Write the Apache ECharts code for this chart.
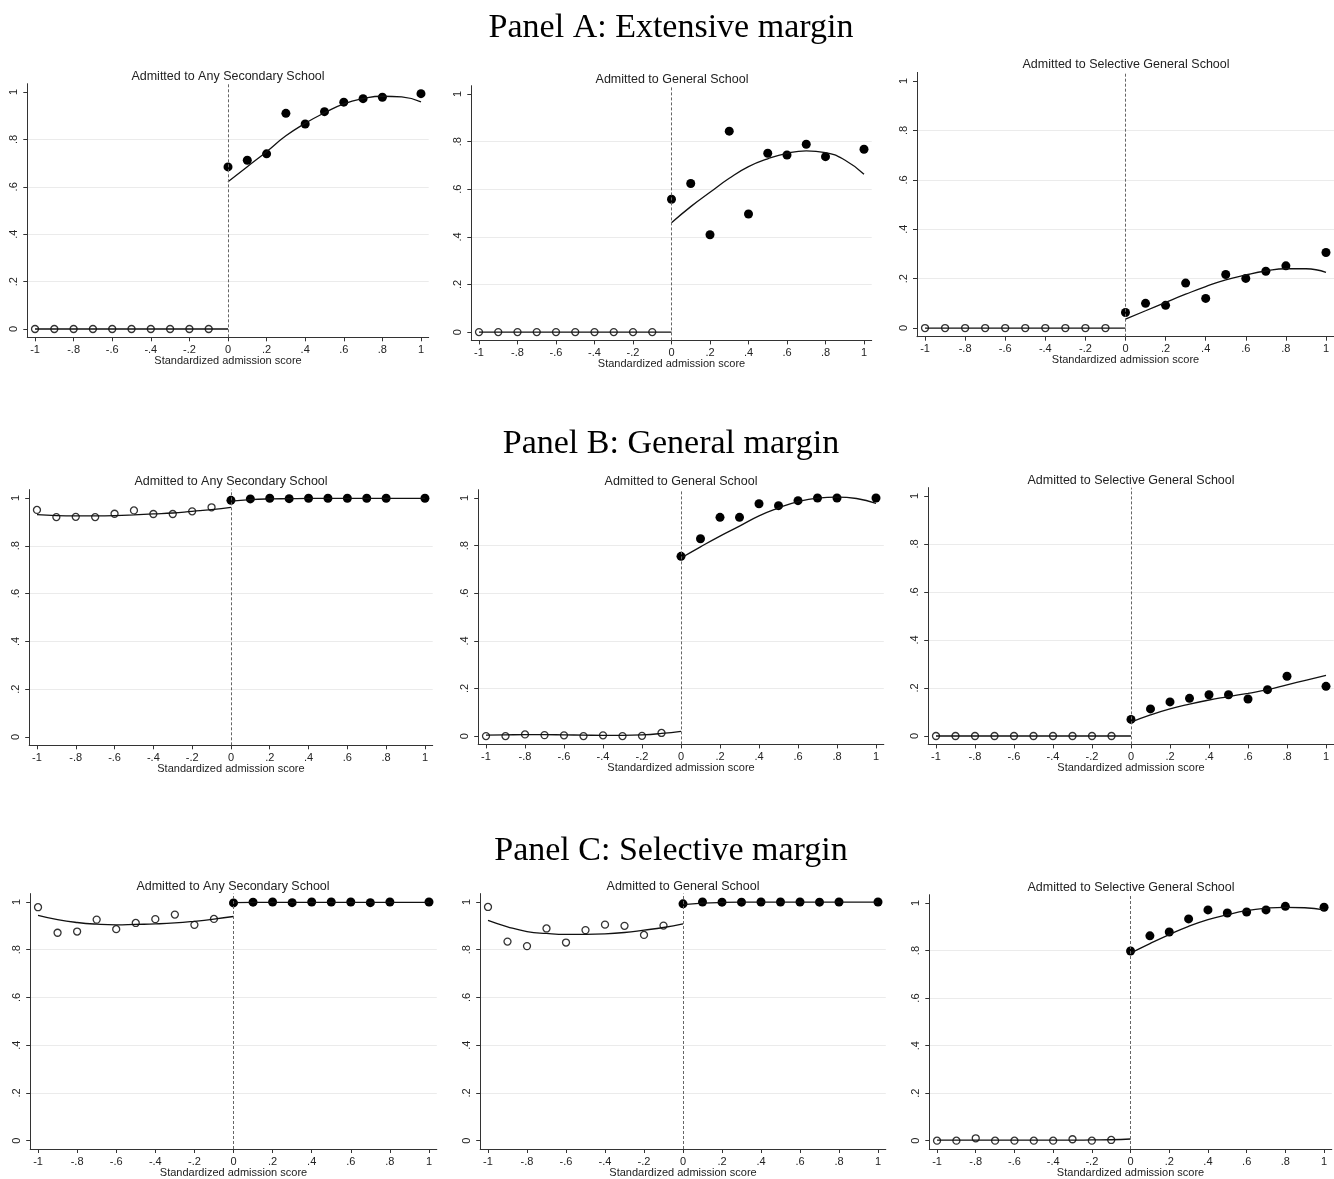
<!DOCTYPE html>
<html>
<head>
<meta charset="utf-8">
<title>Admission margins</title>
<script src="https://cdn.jsdelivr.net/npm/echarts@6/dist/echarts.min.js"></script>
<style>
  html, body { margin: 0; padding: 0; background: #fff; }
  #chart { width: 1334px; height: 1179px; }
</style>
</head>
<body>
<div id="chart"></div>
<script>
// score bins (no bin at .9 on the right side)
var xLeft = [-1, -0.9, -0.8, -0.7, -0.6, -0.5, -0.4, -0.3, -0.2, -0.1];
var xRight = [0, 0.1, 0.2, 0.3, 0.4, 0.5, 0.6, 0.7, 0.8, 1];
var fitXLeft = [-1, -0.9, -0.8, -0.7, -0.6, -0.5, -0.4, -0.3, -0.2, -0.1, 0];
var fitXRight = [0, 0.1, 0.2, 0.3, 0.4, 0.5, 0.6, 0.7, 0.8, 0.9, 1];
var xTicks = [-1, -0.8, -0.6, -0.4, -0.2, 0, 0.2, 0.4, 0.6, 0.8, 1];
var yTicks = [0, 0.2, 0.4, 0.6, 0.8, 1];

var panelHeadings = ['Panel A: Extensive margin', 'Panel B: General margin', 'Panel C: Selective margin'];
var outcomeTitles = ['Admitted to Any Secondary School', 'Admitted to General School', 'Admitted to Selective General School'];
var xAxisName = 'Standardized admission score';

// Panel A
var a1Left = [0, 0, 0, 0, 0, 0, 0, 0, 0, 0];
var a1Right = [0.684, 0.712, 0.739, 0.910, 0.865, 0.917, 0.957, 0.972, 0.978, 0.993];
var a1FitLeft = [0, 0, 0, 0, 0, 0, 0, 0, 0, 0, 0];
var a1FitRight = [0.621, 0.685, 0.748, 0.815, 0.868, 0.912, 0.950, 0.972, 0.982, 0.979, 0.958];

var a2Left = [0, 0, 0, 0, 0, 0, 0, 0, 0, 0];
var a2Right = [0.558, 0.624, 0.409, 0.844, 0.496, 0.751, 0.744, 0.789, 0.737, 0.768];
var a2FitLeft = [0, 0, 0, 0, 0, 0, 0, 0, 0, 0, 0];
var a2FitRight = [0.459, 0.527, 0.587, 0.646, 0.695, 0.728, 0.751, 0.761, 0.754, 0.723, 0.663];

var a3Left = [0, 0, 0, 0, 0, 0, 0, 0, 0, 0];
var a3Right = [0.063, 0.100, 0.092, 0.182, 0.120, 0.217, 0.201, 0.230, 0.252, 0.306];
var a3FitLeft = [0, 0, 0, 0, 0, 0, 0, 0, 0, 0, 0];
var a3FitRight = [0.036, 0.070, 0.104, 0.137, 0.168, 0.195, 0.215, 0.231, 0.240, 0.240, 0.225];

// Panel B
var b1Left = [0.950, 0.920, 0.921, 0.920, 0.934, 0.948, 0.933, 0.933, 0.944, 0.961];
var b1Right = [0.990, 0.996, 0.999, 0.997, 0.999, 0.999, 0.999, 0.999, 0.999, 0.999];
var b1FitLeft = [0.930, 0.926, 0.925, 0.925, 0.926, 0.929, 0.933, 0.937, 0.944, 0.951, 0.961];
var b1FitRight = [0.987, 0.993, 0.996, 0.997, 0.998, 0.998, 0.998, 0.998, 0.998, 0.998, 0.998];

var b2Left = [0.000, 0.000, 0.007, 0.004, 0.003, 0.000, 0.003, 0.000, 0.001, 0.013];
var b2Right = [0.755, 0.829, 0.919, 0.919, 0.976, 0.968, 0.989, 1.000, 1.000, 1.000];
var b2FitLeft = [0.004, 0.005, 0.006, 0.006, 0.005, 0.004, 0.003, 0.003, 0.005, 0.011, 0.020];
var b2FitRight = [0.748, 0.795, 0.840, 0.882, 0.925, 0.958, 0.985, 1.000, 1.004, 0.998, 0.978];

var b3Left = [0, 0, 0, 0, 0, 0, 0, 0, 0, 0];
var b3Right = [0.069, 0.113, 0.142, 0.157, 0.172, 0.172, 0.154, 0.193, 0.249, 0.207];
var b3FitLeft = [0, 0, 0, 0, 0, 0, 0, 0, 0, 0, 0];
var b3FitRight = [0.058, 0.088, 0.113, 0.133, 0.150, 0.164, 0.178, 0.193, 0.213, 0.233, 0.253];

// Panel C
var c1Left = [0.978, 0.871, 0.876, 0.926, 0.886, 0.912, 0.928, 0.947, 0.904, 0.929];
var c1Right = [0.996, 0.999, 1.000, 0.997, 1.000, 1.000, 1.000, 0.997, 1.000, 1.000];
var c1FitLeft = [0.944, 0.926, 0.914, 0.907, 0.904, 0.906, 0.908, 0.912, 0.919, 0.928, 0.939];
var c1FitRight = [0.997, 0.998, 0.998, 0.998, 0.998, 0.998, 0.998, 0.998, 0.998, 0.998, 0.998];

var c2Left = [0.979, 0.834, 0.815, 0.889, 0.830, 0.882, 0.905, 0.900, 0.862, 0.901];
var c2Right = [0.992, 1.000, 0.999, 0.999, 1.000, 1.000, 1.000, 0.999, 1.000, 1.000];
var c2FitLeft = [0.923, 0.896, 0.876, 0.868, 0.864, 0.864, 0.866, 0.872, 0.882, 0.893, 0.908];
var c2FitRight = [0.989, 0.995, 0.998, 0.999, 0.999, 0.999, 0.999, 0.999, 0.999, 0.999, 0.999];

var c3Left = [0.000, 0.000, 0.010, 0.000, 0.000, 0.000, 0.000, 0.006, 0.000, 0.003];
var c3Right = [0.798, 0.862, 0.878, 0.933, 0.971, 0.958, 0.962, 0.971, 0.986, 0.982];
var c3FitLeft = [0.002, 0.002, 0.002, 0.002, 0.002, 0.002, 0.002, 0.002, 0.003, 0.004, 0.007];
var c3FitRight = [0.789, 0.829, 0.867, 0.902, 0.930, 0.951, 0.968, 0.978, 0.982, 0.980, 0.971];

var panelData = [
  [a1Left, a1Right, a1FitLeft, a1FitRight],
  [a2Left, a2Right, a2FitLeft, a2FitRight],
  [a3Left, a3Right, a3FitLeft, a3FitRight],
  [b1Left, b1Right, b1FitLeft, b1FitRight],
  [b2Left, b2Right, b2FitLeft, b2FitRight],
  [b3Left, b3Right, b3FitLeft, b3FitRight],
  [c1Left, c1Right, c1FitLeft, c1FitRight],
  [c2Left, c2Right, c2FitLeft, c2FitRight],
  [c3Left, c3Right, c3FitLeft, c3FitRight]
];

// layout of the nine plot regions (px) and where their titles sit
var gridBoxes = [
  [27.3, 83.7, 401.4, 253.6], [471.3, 85.7, 400.4, 254.7], [917, 72.4, 418, 264.3],
  [29.2, 489.6, 403.5, 255.7], [478.2, 489.7, 405.6, 254.7], [928.2, 487.6, 405.6, 256.8],
  [30.2, 893.6, 406.6, 256.8], [480.2, 893.6, 405.6, 256.8], [929.3, 894.7, 402.5, 254.7]
];
var titleSpots = [
  [228, 70], [672, 73], [1126, 58],
  [231, 475], [681, 475], [1131, 474],
  [233, 880], [683, 880], [1131, 881]
];
var headingSpots = [[671, 11], [671, 427], [671, 834]];

function pairs(xs, ys) {
  return xs.map(function (x, i) { return [x, ys[i]]; });
}

function tickFmt(v) {
  var s = String(Math.round(v * 10) / 10);
  return s.replace('0.', '.');
}

var sans = 'Liberation Sans, Arial, sans-serif';
var ink = '#111';

var titles = [];
panelHeadings.forEach(function (t, i) {
  titles.push({
    text: t, left: headingSpots[i][0], top: headingSpots[i][1], textAlign: 'center', padding: 0,
    textStyle: { fontFamily: 'Liberation Serif, Times New Roman, serif', fontSize: 34, fontWeight: 'normal', color: '#000' }
  });
});

var grids = [], xAxes = [], yAxes = [], series = [];

panelData.forEach(function (d, k) {
  var box = gridBoxes[k];
  grids.push({ left: box[0], top: box[1], width: box[2], height: box[3], containLabel: false });

  titles.push({
    text: outcomeTitles[k % 3], left: titleSpots[k][0], top: titleSpots[k][1], textAlign: 'center', padding: 0,
    textStyle: { fontFamily: sans, fontSize: 12.5, fontWeight: 'normal', color: '#222' }
  });

  xAxes.push({
    type: 'value', gridIndex: k, min: -1.04, max: 1.04,
    name: xAxisName, nameLocation: 'middle', nameGap: 18, nameMoveOverlap: false,
    nameTextStyle: { fontFamily: sans, fontSize: 11, color: '#222' },
    axisLine: { show: true, onZero: false, lineStyle: { color: '#333', width: 1 } },
    axisTick: { show: true, length: 4, customValues: xTicks, lineStyle: { color: '#333' } },
    axisLabel: { customValues: xTicks, margin: 7, fontFamily: sans, fontSize: 11, color: '#222', formatter: tickFmt },
    splitLine: { show: false }
  });

  yAxes.push({
    type: 'value', gridIndex: k, min: -0.035, max: 1.035,
    axisLine: { show: true, onZero: false, lineStyle: { color: '#333', width: 1 } },
    axisTick: { show: true, length: 4, customValues: yTicks, lineStyle: { color: '#333' } },
    axisLabel: { customValues: yTicks, rotate: 90, margin: 8, fontFamily: sans, fontSize: 11, color: '#222', formatter: tickFmt },
    splitLine: { show: true, showMinLine: false, showMaxLine: false, lineStyle: { color: '#ebebeb', width: 1 } }
  });

  series.push({
    type: 'scatter', xAxisIndex: k, yAxisIndex: k, z: 2,
    data: pairs(xLeft, d[0]), symbol: 'circle', symbolSize: 7,
    itemStyle: { color: 'rgba(255,255,255,0)', borderColor: '#000', borderWidth: 1.3 }
  });
  series.push({
    type: 'scatter', xAxisIndex: k, yAxisIndex: k, z: 2,
    data: pairs(xRight, d[1]), symbol: 'circle', symbolSize: 9,
    itemStyle: { color: '#000', opacity: 1 }
  });
  series.push({
    type: 'line', xAxisIndex: k, yAxisIndex: k, z: 3,
    data: pairs(fitXLeft, d[2]), smooth: true, showSymbol: false,
    lineStyle: { color: ink, width: 1.3 },
    markLine: {
      silent: true, symbol: 'none', label: { show: false },
      lineStyle: { color: '#666', type: [3, 2], width: 1 },
      data: [{ xAxis: 0 }]
    }
  });
  series.push({
    type: 'line', xAxisIndex: k, yAxisIndex: k, z: 3,
    data: pairs(fitXRight, d[3]), smooth: true, showSymbol: false,
    lineStyle: { color: ink, width: 1.3 }
  });
});

var chart = echarts.init(document.getElementById('chart'), null, { renderer: 'canvas' });
chart.setOption({
  backgroundColor: '#fff',
  animation: false,
  title: titles,
  grid: grids,
  xAxis: xAxes,
  yAxis: yAxes,
  series: series
});
</script>
</body>
</html>
